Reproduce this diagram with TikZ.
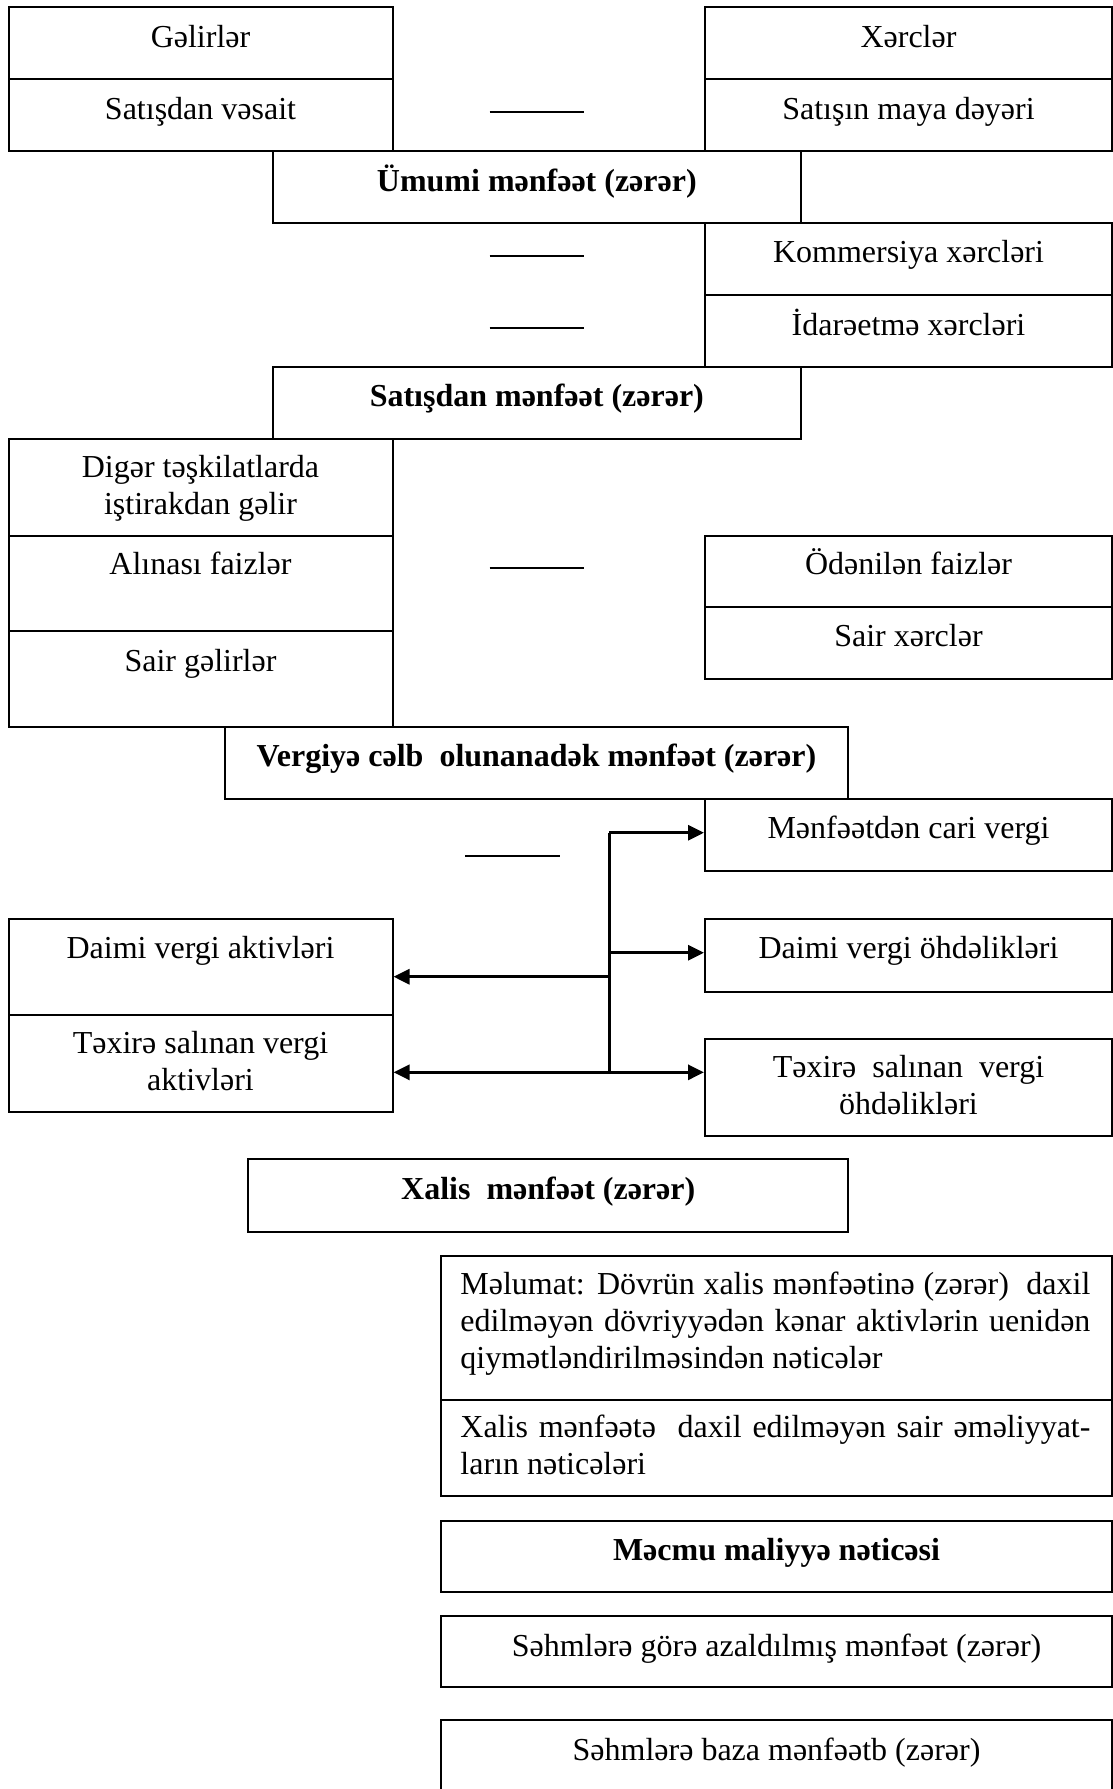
\documentclass[tikz,border=0pt]{standalone}
\usepackage{fontspec}
\setmainfont{Liberation Serif}
\usetikzlibrary{fit,calc,arrows.meta}
\begin{document}
\begin{tikzpicture}[x=0.5pt,y=-0.5pt,
  box/.style={draw, line width=1pt, inner sep=0pt, rectangle},
  lbl/.style={font=\fontsize{16}{18.5}\selectfont, inner sep=0pt, align=center, anchor=base},
  bold/.style={lbl, font=\fontsize{16}{18.5}\selectfont\bfseries},
  para/.style={lbl, anchor=base west, text width=315pt, align=justify},
  minus/.style={line width=1pt},
  link/.style={line width=1.5pt},
  arr/.style={-{Triangle[length=8pt,width=7.5pt]}}
]
\useasboundingbox (0,0) rectangle (1113,1789);
\clip (0,0) rectangle (1113,1789);

% --- gross profit block ---
\node[box, fit={(8.5,7.3) (392.5,79)}] (inc) {};
\node[box, fit={(8.5,79) (392.5,151)}] (sales) {};
\node[box, fit={(705,7.3) (1112,79)}] (exp) {};
\node[box, fit={(705,79) (1112,151)}] (cost) {};
\node[box, fit={(273,151) (800.6,222.7)}] (gross) {};
\node[lbl] (inct) at ($(inc.north)+(0,41)$) {Gəlirlər};
\node[lbl] (salest) at ($(sales.north)+(0,41)$) {Satışdan vəsait};
\node[lbl] (expt) at ($(exp.north)+(0,41)$) {Xərclər};
\node[lbl] (costt) at ($(cost.north)+(0,41)$) {Satışın maya dəyəri};
\node[bold] (grosst) at ($(gross.north)+(0,41)$) {Ümumi mənfəət (zərər)};
\draw[minus] (489.7,111.7) -- (584,111.7);

% --- operating expenses ---
\node[box, fit={(705,222.7) (1112,295)}] (comm) {};
\node[box, fit={(705,295) (1112,366.7)}] (adm) {};
\node[box, fit={(273,366.7) (800.6,439.3)}] (oper) {};
\node[lbl] (commt) at ($(comm.north)+(0,41)$) {Kommersiya xərcləri};
\node[lbl] (admt) at ($(adm.north)+(0,41)$) {İdarəetmə xərcləri};
\node[bold] (opert) at ($(oper.north)+(0,41)$) {Satışdan mənfəət (zərər)};
\draw[minus] (489.7,256) -- (584,256);
\draw[minus] (489.7,327.7) -- (584,327.7);

% --- other income and expenses ---
\node[box, fit={(8.5,439.3) (392.5,535.7)}] (part) {};
\node[box, fit={(8.5,535.7) (392.5,631)}] (intin) {};
\node[box, fit={(8.5,631) (392.5,726.7)}] (othin) {};
\node[box, fit={(705,535.7) (1112,607)}] (intout) {};
\node[box, fit={(705,607) (1112,679)}] (othout) {};
\node[box, fit={(225,726.7) (848,799.3)}] (pretax) {};
% two-line labels sit on the baseline of their last line
\node[lbl] (partt) at ($(part.north)+(0,76)$) {Digər təşkilatlarda\\iştirakdan gəlir};
\node[lbl] (intint) at ($(intin.north)+(0,40)$) {Alınası faizlər};
\node[lbl] (othint) at ($(othin.north)+(0,41)$) {Sair gəlirlər};
\node[lbl] (intoutt) at ($(intout.north)+(0,40)$) {Ödənilən faizlər};
\node[lbl] (othoutt) at ($(othout.north)+(0,40)$) {Sair xərclər};
\node[bold] (pretaxt) at ($(pretax.north)+(0,41)$) {Vergiyə cəlb\ \ olunanadək mənfəət (zərər)};
\draw[minus] (489.7,567.7) -- (584,567.7);

% --- profit tax ---
\node[box, fit={(705,799.3) (1112,871.3)}] (cur) {};
\node[box, fit={(8.5,919.3) (392.5,1015)}] (dpa) {};
\node[box, fit={(8.5,1015) (392.5,1111.7)}] (dfa) {};
\node[box, fit={(705,919.3) (1112,991.7)}] (dpl) {};
\node[box, fit={(705,1039.3) (1112,1135.7)}] (dfl) {};
\node[lbl] (curt) at ($(cur.north)+(0,40)$) {Mənfəətdən cari vergi};
\node[lbl] (dpat) at ($(dpa.north)+(0,40)$) {Daimi vergi aktivləri};
\node[lbl] (dfat) at ($(dfa.north)+(0,76)$) {Təxirə salınan vergi\\aktivləri};
\node[lbl] (dplt) at ($(dpl.north)+(0,40)$) {Daimi vergi öhdəlikləri};
\node[lbl] (dflt) at ($(dfl.north)+(0,76)$) {Təxirə\ \ salınan\ \ vergi\\öhdəlikləri};
\draw[minus] (465,856) -- (560,856);

\coordinate (j1) at (609,832.7);
\coordinate (j2) at (609,952.7);
\coordinate (j3) at (609,976.7);
\coordinate (j4) at (609,1072.3);
\draw[link] (j1) -- (j4);
\draw[link,arr] (j1) -- (j1 -| cur.west);
\draw[link,arr] (j2) -- (j2 -| dpl.west);
\draw[link,arr] (j3) -- (j3 -| dpa.east);
\draw[link,arr] (j4) -- (j4 -| dfl.west);
\draw[link,arr] (j4) -- (j4 -| dfa.east);

% --- net profit and comprehensive result ---
\node[box, fit={(248.4,1159.3) (848,1231.7)}] (net) {};
\node[bold] (nett) at ($(net.north)+(0,41)$) {Xalis\ \ mənfəət (zərər)};
\node[box, fit={(441,1255.7) (1112,1400)}] (reval) {};
\node[box, fit={(441,1400) (1112,1495.6)}] (other) {};
\node[para] (revalt) at ($(reval.north west)+(20,40)$) {Məlumat: Dövrün xalis mənfəətinə (zərər)\ \ daxil\linebreak edilməyən dövriyyədən kənar aktivlərin uenidən\linebreak qiymətləndirilməsindən nəticələr};
\node[para] (othert) at ($(other.north west)+(20,38)$) {Xalis mənfəətə\ \ daxil edilməyən sair əməliyyat-\linebreak ların nəticələri};
\node[box, fit={(441,1520.5) (1112,1591.9)}] (total) {};
\node[bold] (totalt) at ($(total.north)+(0,41)$) {Məcmu maliyyə nəticəsi};
\node[box, fit={(441,1616) (1112,1687.4)}] (dil) {};
\node[lbl] (dilt) at ($(dil.north)+(0,41)$) {Səhmlərə görə azaldılmış mənfəət (zərər)};
\node[box, fit={(441,1720) (1112,1830)}] (base) {};
\node[lbl] (baset) at ($(base.north)+(0,41)$) {Səhmlərə baza mənfəətb (zərər)};
\end{tikzpicture}
\end{document}
